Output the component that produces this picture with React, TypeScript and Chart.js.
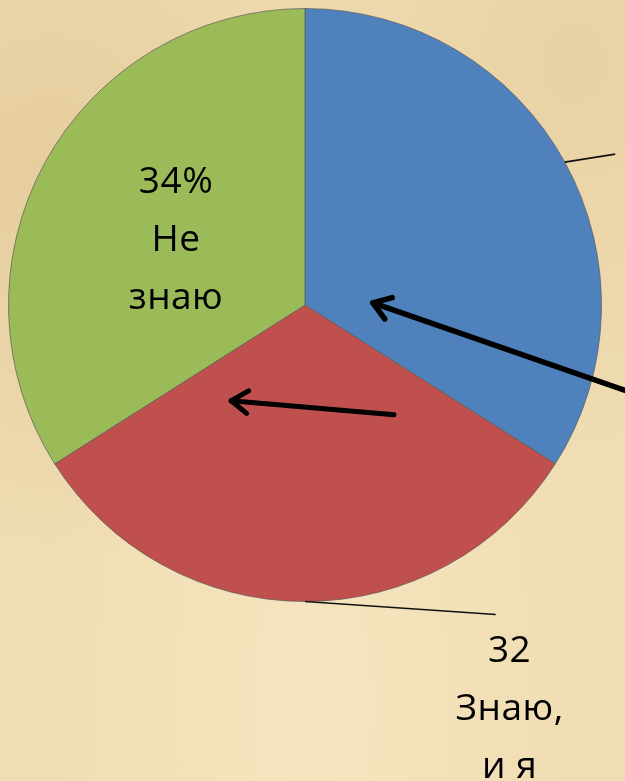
import React, { useEffect, useRef } from "react";
import { Chart, registerables } from "chart.js";

Chart.register(...registerables);

const categories = ["Знаю", "Знаю, и я", "Не знаю"];
const values = [34, 32, 34];
const colors = ["#4f81bd", "#c0504d", "#9bbb59"];
const greenLabel = ["34%", "Не", "знаю"];
const redLabel = ["32", "Знаю,", "и я"];

const overlay = {
  id: "overlay",
  afterDatasetsDraw(chart: any) {
    const ctx = chart.ctx;
    const meta = chart.getDatasetMeta(0);
    const arcs = meta.data as any[];
    if (!arcs.length) return;
    const cx = arcs[0].x;
    const cy = arcs[0].y;
    const r = arcs[0].outerRadius;
    const mid = (a: any) => (a.startAngle + a.endAngle) / 2;
    const edge = (a: any) => ({ x: cx + Math.cos(mid(a)) * r, y: cy + Math.sin(mid(a)) * r });

    ctx.save();
    // leader lines
    ctx.strokeStyle = "#111";
    ctx.lineWidth = 1.6;
    const b = edge(arcs[0]);
    ctx.beginPath();
    ctx.moveTo(b.x, b.y);
    ctx.lineTo(b.x + r * 0.17, b.y - r * 0.027);
    ctx.stroke();
    const rd = edge(arcs[1]);
    ctx.beginPath();
    ctx.moveTo(rd.x, rd.y);
    ctx.lineTo(rd.x + r * 0.643, rd.y + r * 0.044);
    ctx.stroke();

    // labels
    ctx.fillStyle = "#000";
    ctx.font = "37px 'Open Sans'";
    (ctx as any).letterSpacing = "0.5px";
    ctx.textAlign = "center";
    ctx.textBaseline = "alphabetic";
    const gx = cx - r * 0.435;
    const gy = cy - r * 0.378;
    greenLabel.forEach((t, i) => ctx.fillText(t, gx, gy + i * 58));
    const rx = rd.x + r * 0.69;
    const ry = rd.y + 60;
    redLabel.forEach((t, i) => ctx.fillText(t, rx, ry + i * 58));
    (ctx as any).letterSpacing = "0px";

    // arrows
    const arrow = (tx: number, ty: number, sx: number, sy: number, w: number) => {
      const x1 = cx + tx * r, y1 = cy + ty * r;
      const x0 = cx + sx * r, y0 = cy + sy * r;
      ctx.strokeStyle = "#000";
      ctx.lineWidth = w;
      ctx.lineCap = "round";
      ctx.lineJoin = "round";
      ctx.beginPath();
      ctx.moveTo(x0, y0);
      ctx.lineTo(x1, y1);
      ctx.stroke();
      const ang = Math.atan2(y0 - y1, x0 - x1);
      const L = 20;
      ctx.beginPath();
      ctx.moveTo(x1 + Math.cos(ang - 0.6) * L, y1 + Math.sin(ang - 0.6) * L);
      ctx.lineTo(x1, y1);
      ctx.lineTo(x1 + Math.cos(ang + 0.6) * L, y1 + Math.sin(ang + 0.6) * L);
      ctx.stroke();
    };
    arrow(0.229, -0.007, 1.2, 0.33, 5.5);
    arrow(-0.249, 0.323, 0.30, 0.37, 5);
    ctx.restore();
  },
};

export default function App() {
  const ref = useRef<HTMLCanvasElement>(null);
  useEffect(() => {
    if (!ref.current) return;
    const chart = new Chart(ref.current, {
      type: "pie",
      data: {
        labels: categories,
        datasets: [
          {
            data: values,
            backgroundColor: colors,
            borderColor: "rgba(90,90,90,0.7)",
            borderWidth: 1,
          },
        ],
      },
      options: {
        responsive: false,
        animation: false,
        layout: { padding: { left: 8, top: 8, right: 23, bottom: 179 } },
        plugins: { legend: { display: false }, tooltip: { enabled: false } },
      },
      plugins: [overlay],
    });
    return () => chart.destroy();
  }, []);
  return (
    <div
      style={{
        position: "absolute",
        left: 0,
        top: 0,
        width: 625,
        height: 781,
        background:
          "radial-gradient(ellipse at 8% 22%, rgba(210,175,115,0.35), rgba(210,175,115,0) 45%)," +
          "radial-gradient(ellipse at 92% 8%, rgba(215,185,130,0.3), rgba(215,185,130,0) 40%)," +
          "radial-gradient(ellipse at 50% 90%, rgba(250,235,200,0.55), rgba(250,235,200,0) 60%)," +
          "#f0ddb3",
      }}
    >
      <canvas ref={ref} width={625} height={781} style={{ display: "block" }} />
    </div>
  );
}
